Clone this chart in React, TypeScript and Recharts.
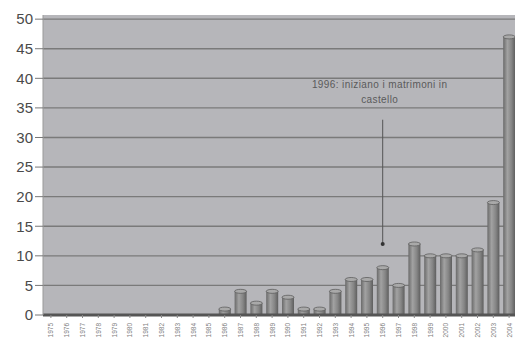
import React from 'react'
import {
  BarChart,
  Bar,
  XAxis,
  YAxis,
  CartesianGrid,
  ReferenceLine,
  ReferenceDot,
} from 'recharts'

const YEARS = [
  '1975', '1976', '1977', '1978', '1979', '1980', '1981', '1982', '1983', '1984',
  '1985', '1986', '1987', '1988', '1989', '1990', '1991', '1992', '1993', '1994',
  '1995', '1996', '1997', '1998', '1999', '2000', '2001', '2002', '2003', '2004',
]
const COUNTS = [
  0, 0, 0, 0, 0, 0, 0, 0, 0, 0,
  0, 1, 4, 2, 4, 3, 1, 1, 4, 6,
  6, 8, 5, 12, 10, 10, 10, 11, 19, 47,
]
const Y_TICKS = [0, 5, 10, 15, 20, 25, 30, 35, 40, 45, 50]
const NOTE_LINES = ['1996: iniziano i matrimoni in', 'castello']
const NOTE_YEAR = '1996'

const data = YEARS.map((year, i) => ({ year, count: COUNTS[i] }))

const FONT = '"Liberation Sans", Arial, sans-serif'

function CylinderBar(props: any) {
  const { x, y, width, height } = props
  if (!height || height <= 0) return null
  const cx = x + width / 2
  return (
    <g>
      <rect x={x} y={y} width={width} height={height} fill="url(#barGrad)" />
      <ellipse cx={cx} cy={y} rx={width / 2} ry={2} fill="#a9a9a9" stroke="#5e5e5e" strokeWidth={0.8} />
    </g>
  )
}

function YearTick(props: any) {
  const { x, y, payload } = props
  return (
    <text
      transform={`translate(${x + 2.5},${y + 3}) rotate(-90)`}
      textAnchor="end"
      fontSize={6.5}
      fill="#808080"
      fontFamily={FONT}
    >
      {payload.value}
    </text>
  )
}

function NoteLabel(props: any) {
  const { viewBox } = props
  const cx = viewBox.x + (viewBox.width || 0) / 2 - 3
  const cy = viewBox.y + (viewBox.height || 0) / 2
  return (
    <text textAnchor="middle" fontSize={10} letterSpacing={0.4} fill="#5a5a5a" fontFamily={FONT}>
      {NOTE_LINES.map((l, i) => (
        <tspan key={i} x={cx} y={cy + 3 + i * 15}>{l}</tspan>
      ))}
    </text>
  )
}

export default function App() {
  return (
    <div style={{ position: 'absolute', left: 0, top: 0, width: 515, height: 339, overflow: 'hidden', background: '#fff' }}>
      <BarChart
        width={520}
        height={339}
        data={data}
        margin={{ top: 15, right: 3, left: 0, bottom: 0 }}
        barSize={12}
      >
        <defs>
          <linearGradient id="barGrad" x1="0" y1="0" x2="1" y2="0">
            <stop offset="0%" stopColor="#6a6a6a" />
            <stop offset="35%" stopColor="#a2a2a2" />
            <stop offset="70%" stopColor="#858585" />
            <stop offset="100%" stopColor="#5e5e5e" />
          </linearGradient>
        </defs>
        <CartesianGrid
          vertical={false}
          stroke="#7a7a7a"
          strokeWidth={1.4}
          fill="#b6b6ba"
          fillOpacity={1}
          horizontalValues={Y_TICKS}
        />
        <XAxis
          dataKey="year"
          height={24}
          interval={0}
          tick={<YearTick />}
          tickLine={{ stroke: '#888' }}
          tickSize={3}
          axisLine={{ stroke: '#555', strokeWidth: 3 }}
        />
        <YAxis
          domain={[0, 50.7]}
          ticks={Y_TICKS}
          width={43}
          tickSize={8}
          tickMargin={2}
          tick={{ fill: '#4a4a4a', fontSize: 15, fontFamily: FONT }}
          tickLine={{ stroke: '#777' }}
          axisLine={{ stroke: '#999' }}
          allowDataOverflow
        />
        <Bar dataKey="count" shape={<CylinderBar />} isAnimationActive={false} />
        <ReferenceLine
          segment={[{ x: NOTE_YEAR, y: 33 }, { x: NOTE_YEAR, y: 12 }]}
          stroke="#555"
          strokeWidth={1}
        />
        <ReferenceDot
          x={NOTE_YEAR}
          y={12}
          r={2}
          fill="#333"
          stroke="none"
        />
        <ReferenceDot
          x={NOTE_YEAR}
          y={38.9}
          r={0}
          stroke="none"
          label={<NoteLabel />}
        />
      </BarChart>
    </div>
  )
}
